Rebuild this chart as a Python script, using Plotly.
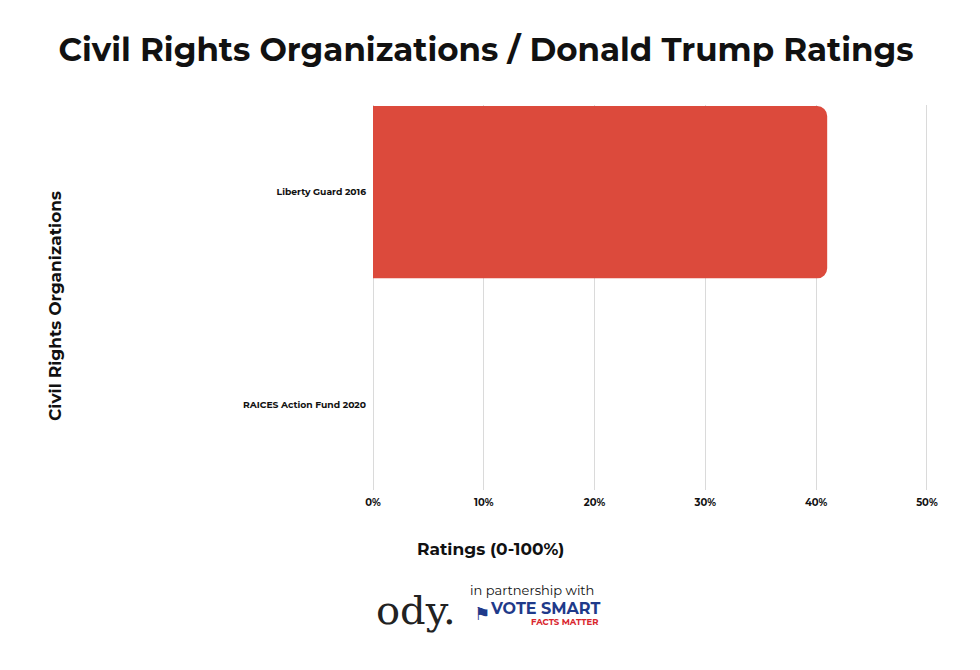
import plotly.graph_objects as go

categories = ["Liberty Guard 2016", "RAICES Action Fund 2020"]
ratings = [41, 0]
tick_vals = [0, 10, 20, 30, 40, 50]
tick_text = ["0%", "10%", "20%", "30%", "40%", "50%"]

FONT = "Montserrat, Poppins, 'Open Sans', 'DejaVu Sans', sans-serif"

# page offset (body margin) compensation
OFF = 8
L, R, T, B = 373, 928, 105, 490

fig = go.Figure(go.Bar(
    x=ratings, y=categories, orientation="h",
    marker=dict(color="#DC4A3C", line=dict(width=0)),
    width=0.81, hoverinfo="skip",
))

fig.update_layout(
    width=980, height=670,
    margin=dict(l=L - OFF, r=980 + OFF - R, t=T - OFF, b=670 + OFF - B),
    paper_bgcolor="white", plot_bgcolor="white",
    barcornerradius=10,
    showlegend=False,
    title=dict(text="<b>Civil Rights Organizations / Donald Trump Ratings</b>",
               x=(486 - OFF) / 980, xanchor="center", y=1 - (50 - OFF) / 670, yanchor="middle",
               font=dict(family=FONT, size=32.5, color="#111111")),
    xaxis=dict(range=[0, 50.1], tickvals=tick_vals, ticktext=tick_text,
               showgrid=True, gridcolor="#DADADA", gridwidth=1,
               zeroline=True, zerolinecolor="#DADADA", zerolinewidth=1,
               showline=False, ticks="", ticklen=0, ticklabelstandoff=5,
               tickfont=dict(family=FONT, size=10, color="#111111", weight="bold")),
    yaxis=dict(range=[1.4, -0.41], showgrid=False, zeroline=False, showline=False,
               ticks="", ticklabelstandoff=6,
               tickfont=dict(family=FONT, size=9.2, color="#111111", weight="bold")),
)


def px_x(px):
    return (px - L) / (R - L)


def px_y(py):
    return (B - py) / (B - T)


def text(t, x, y, size, color="#111111", family=FONT, anchor="center", angle=0):
    fig.add_annotation(text=t, xref="paper", yref="paper", x=px_x(x), y=px_y(y),
                       textangle=angle, showarrow=False, xanchor=anchor, yanchor="middle",
                       font=dict(family=family, size=size, color=color))


text("<b>Ratings (0-100%)</b>", 490, 549, 17)
text("<b>Civil Rights Organizations</b>", 55, 306, 17, angle=-90)

# Footer logos
text("ody.", 416, 610, 40, color="#222222", family="'DejaVu Serif', 'Liberation Serif', serif")
text("in partnership with", 532, 590, 13)
text("<b>VOTE SMART</b>", 602, 608, 16, color="#1F3A8A", anchor="right")
text("<b>FACTS MATTER</b>", 601, 622, 8.5, color="#D9262E", anchor="right")
text("<b>⚑</b>", 482, 613, 18, color="#1F3A8A", family="DejaVu Sans")

fig.write_html("out.html")
